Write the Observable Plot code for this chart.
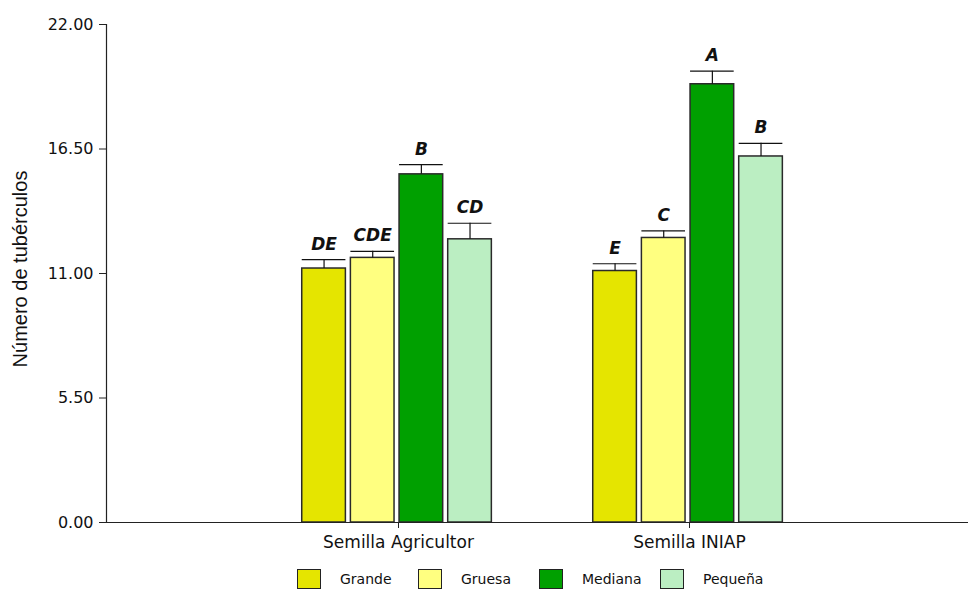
<!DOCTYPE html>
<html>
<head>
<meta charset="utf-8">
<script src="https://cdn.jsdelivr.net/npm/d3@7"></script>
<script src="https://cdn.jsdelivr.net/npm/@observablehq/plot@0.6"></script>
<style>
  html, body { margin: 0; padding: 0; background: #fff; overflow: hidden; }
  #legend { display: flex; margin-left: 297px; margin-top: 9px; height: 20px;
            font-family: "DejaVu Sans", sans-serif; font-size: 14px; color: #111; }
  #legend .item { width: 121px; display: flex; align-items: center; }
  #legend .sw { width: 24px; height: 20px; box-sizing: border-box; border: 1.5px solid #222; margin-right: 19px; flex: none; }
</style>
</head>
<body>
<div id="chart"></div>
<div id="legend"></div>
<script>
// ---- data ----
const groups = ["Semilla Agricultor", "Semilla INIAP"];
const sizes = ["Grande", "Gruesa", "Mediana", "Pequeña"];
const colors = ["#E5E500", "#FFFF80", "#00A000", "#BBEEC2"];
const meansAgricultor = [11.22, 11.69, 15.38, 12.51];
const meansINIAP = [11.11, 12.57, 19.36, 16.17];
const errAgricultor = [0.39, 0.29, 0.43, 0.71];
const errINIAP = [0.32, 0.31, 0.58, 0.58];
const lettersAgricultor = ["DE", "CDE", "B", "CD"];
const lettersINIAP = ["E", "C", "A", "B"];
const yTicks = [0, 5.5, 11, 16.5, 22];
const yLabel = "Número de tubérculos";

// ---- table ----
const seriesMeans = [meansAgricultor, meansINIAP];
const seriesErr = [errAgricultor, errINIAP];
const seriesLetters = [lettersAgricultor, lettersINIAP];
const data = [];
groups.forEach((g, gi) => sizes.forEach((s, si) => {
  data.push({group: g, gi, size: s, si, mean: seriesMeans[gi][si], err: seriesErr[gi][si], letter: seriesLetters[gi][si]});
}));

// ---- layout within a group (in x-scale units, one unit = group spacing) ----
const slot = 0.1672, barW = 0.15, shift = -0.005;
const cx = d => d.gi + shift + (d.si - 1.5) * slot;

const W = 968, H = 560;
const plot = Plot.plot({
  width: W,
  height: H,
  marginLeft: 106,
  marginRight: 0,
  marginTop: 24,
  marginBottom: 38,
  style: {fontFamily: "DejaVu Sans, sans-serif", fontSize: "16px", background: "white", color: "#111"},
  x: {type: "linear", domain: [-292 / 291, 570 / 291], axis: null},
  y: {domain: [0, 22], axis: null},
  color: {domain: sizes, range: colors},
  marks: [
    Plot.rectY(data, {x1: d => cx(d) - barW / 2, x2: d => cx(d) + barW / 2, y1: 0, y2: "mean",
      fill: "size", stroke: "#2a2a2a", strokeWidth: 1.5}),
    Plot.ruleX(data, {x: cx, y1: "mean", y2: d => d.mean + d.err, stroke: "#111", strokeWidth: 1.2}),
    Plot.ruleY(data, {y: d => d.mean + d.err, x1: d => cx(d) - barW / 2, x2: d => cx(d) + barW / 2, stroke: "#111", strokeWidth: 1.2}),
    Plot.text(data, {x: cx, y: d => d.mean + d.err, text: "letter", dy: -10, lineAnchor: "bottom",
      fontWeight: "bold", fontStyle: "italic", fontSize: 17, fill: "#111"}),
    Plot.ruleY([0], {stroke: "#222", strokeWidth: 1.2}),
    Plot.ruleX([-292 / 291], {y1: 0, y2: 22, stroke: "#222", strokeWidth: 1.2}),
    Plot.axisY({ticks: yTicks, tickFormat: d3.format(".2f"), tickSize: 7, tickPadding: 6, fontSize: 16, label: null, stroke: "#222"}),
    Plot.axisX({ticks: [0, 1], tickFormat: i => groups[i], tickSize: 6, tickPadding: 7, fontSize: 17, label: null, stroke: "#222"}),
    Plot.text([yLabel], {frameAnchor: "left", textAnchor: "middle", rotate: -90, dx: -86, dy: -4.5,
      fontFamily: "Liberation Sans, Arial, sans-serif", fontSize: 20, fill: "#111"})
  ]
});
document.getElementById("chart").appendChild(plot);

// ---- legend ----
const legend = d3.select("#legend");
sizes.forEach((s, i) => {
  const item = legend.append("div").attr("class", "item");
  item.append("span").attr("class", "sw").style("background", colors[i]);
  item.append("span").text(s);
});
</script>
</body>
</html>
